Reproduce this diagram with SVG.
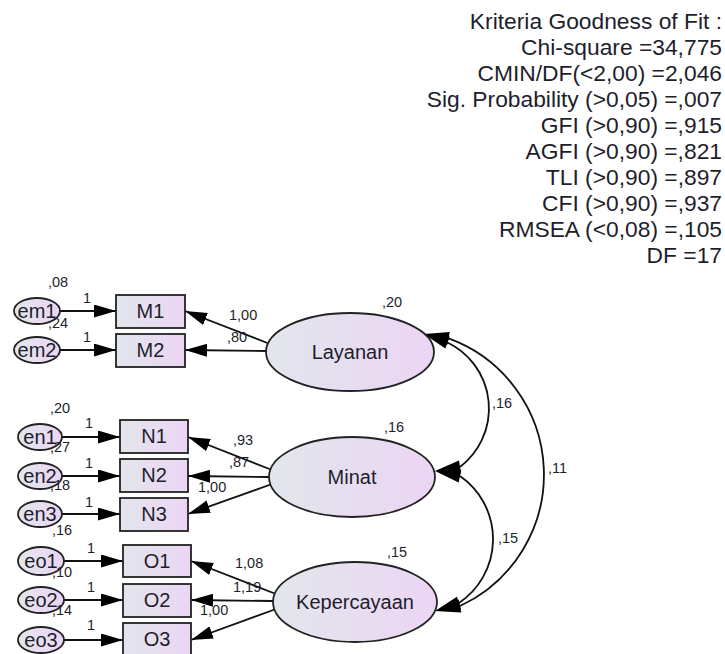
<svg xmlns="http://www.w3.org/2000/svg" width="725" height="654" viewBox="0 0 725 654">
<defs>
<linearGradient id="g" x1="0" y1="0" x2="1" y2="0">
<stop offset="0" stop-color="#e2e6ec"/>
<stop offset="1" stop-color="#ecd5f4"/>
</linearGradient>
<marker id="ah" viewBox="0 0 22 13" refX="22" refY="6.5" markerWidth="22" markerHeight="13" markerUnits="userSpaceOnUse" orient="auto-start-reverse">
<path d="M0,0 L22,6.5 L0,13 Z" fill="#000"/>
</marker>
<style>
text{font-family:"Liberation Sans",Arial,sans-serif;fill:#1e1e2c}
.fit{font-size:22.8px;text-anchor:end}
.nl{font-size:20px;text-anchor:middle}
.sl{font-size:14.5px}
.shape{fill:url(#g);stroke:#222;stroke-width:1.8}
.c{fill:none;stroke:#111;stroke-width:1.8;marker-end:url(#ah)}
.cov{fill:none;stroke:#111;stroke-width:1.8}
.head{fill:#000;stroke:none}
</style>
</defs>
<rect width="725" height="654" fill="#fff"/>
<g id="fit">
<text class="fit" x="722" y="29">Kriteria Goodness of Fit :</text>
<text class="fit" x="722" y="55">Chi-square =34,775</text>
<text class="fit" x="722" y="81">CMIN/DF(&lt;2,00) =2,046</text>
<text class="fit" x="722" y="107">Sig. Probability (&gt;0,05) =,007</text>
<text class="fit" x="722" y="133">GFI (&gt;0,90) =,915</text>
<text class="fit" x="722" y="159">AGFI (&gt;0,90) =,821</text>
<text class="fit" x="722" y="185">TLI (&gt;0,90) =,897</text>
<text class="fit" x="722" y="211">CFI (&gt;0,90) =,937</text>
<text class="fit" x="722" y="237">RMSEA (&lt;0,08) =,105</text>
<text class="fit" x="722" y="263">DF =17</text>
</g>
<g id="connectors">
<line class="c" x1="60" y1="311" x2="116" y2="311"/>
<line class="c" x1="60" y1="350" x2="116" y2="350"/>
<line class="c" x1="62" y1="437" x2="120" y2="437"/>
<line class="c" x1="62" y1="476" x2="120" y2="476"/>
<line class="c" x1="62" y1="514" x2="120" y2="514"/>
<line class="c" x1="63" y1="561" x2="123" y2="561"/>
<line class="c" x1="63" y1="600" x2="123" y2="600"/>
<line class="c" x1="63" y1="640" x2="123" y2="640"/>
<line class="c" x1="270" y1="344" x2="185" y2="311"/>
<line class="c" x1="267" y1="351" x2="185" y2="350"/>
<line class="c" x1="272" y1="470" x2="188" y2="437"/>
<line class="c" x1="269" y1="477" x2="188" y2="476"/>
<line class="c" x1="272" y1="484" x2="188" y2="514"/>
<line class="c" x1="276" y1="594" x2="191" y2="561"/>
<line class="c" x1="273" y1="601" x2="191" y2="600"/>
<line class="c" x1="276" y1="609" x2="191" y2="640"/>
<path class="cov" d="M447.5,342.5 A73.4,73.4 0 0 1 460,467"/>
<path class="cov" d="M460,476 A76.9,76.9 0 0 1 459,603"/>
<path class="cov" d="M448.6,338.4 A144.9,144.9 0 0 1 460,606"/>
<polygon class="head" points="424,334 449.7,332 447.5,344.8"/>
<polygon class="head" points="424,334 449.7,336.4 445.3,348.6"/>
<polygon class="head" points="435,471 461,473.4 459,460.6"/>
<polygon class="head" points="435,471 458.7,482.4 461.3,469.6"/>
<polygon class="head" points="435,611 461.1,609.2 456.9,596.8"/>
<polygon class="head" points="435,611 461.3,612.4 458.7,599.6"/>
<text class="sl" x="83" y="303">1</text>
<text class="sl" x="83" y="342">1</text>
<text class="sl" x="85" y="428">1</text>
<text class="sl" x="85" y="468">1</text>
<text class="sl" x="85" y="507">1</text>
<text class="sl" x="87" y="553">1</text>
<text class="sl" x="87" y="592">1</text>
<text class="sl" x="87" y="630">1</text>
<text class="sl" x="229" y="320">1,00</text>
<text class="sl" x="227" y="342">,80</text>
<text class="sl" x="233" y="445">,93</text>
<text class="sl" x="229" y="467">,87</text>
<text class="sl" x="198" y="492">1,00</text>
<text class="sl" x="235" y="568">1,08</text>
<text class="sl" x="233" y="592">1,19</text>
<text class="sl" x="200" y="615">1,00</text>
<text class="sl" x="492" y="408">,16</text>
<text class="sl" x="548" y="473">,11</text>
<text class="sl" x="498" y="543">,15</text>
</g>
<g id="em1"><ellipse class="shape" cx="37" cy="311" rx="23" ry="13"/><text class="nl" x="37" y="318">em1</text><text class="sl" x="48" y="287">,08</text></g>
<g id="em2"><ellipse class="shape" cx="37" cy="350" rx="23" ry="13"/><text class="nl" x="37" y="357">em2</text><text class="sl" x="48" y="328">,24</text></g>
<g id="en1"><ellipse class="shape" cx="40" cy="437" rx="22" ry="13"/><text class="nl" x="40" y="444">en1</text><text class="sl" x="50" y="413">,20</text></g>
<g id="en2"><ellipse class="shape" cx="40" cy="476" rx="22" ry="13"/><text class="nl" x="40" y="483">en2</text><text class="sl" x="50" y="452">,27</text></g>
<g id="en3"><ellipse class="shape" cx="40" cy="514" rx="22" ry="13"/><text class="nl" x="40" y="521">en3</text><text class="sl" x="50" y="490">,18</text></g>
<g id="eo1"><ellipse class="shape" cx="41" cy="561" rx="23" ry="14"/><text class="nl" x="41" y="568">eo1</text><text class="sl" x="52" y="535">,16</text></g>
<g id="eo2"><ellipse class="shape" cx="41" cy="600" rx="23" ry="13"/><text class="nl" x="41" y="607">eo2</text><text class="sl" x="52" y="577">,10</text></g>
<g id="eo3"><ellipse class="shape" cx="41" cy="640" rx="23" ry="13"/><text class="nl" x="41" y="647">eo3</text><text class="sl" x="52" y="615">,14</text></g>
<g id="M1"><rect class="shape" x="116" y="295" width="69" height="33"/><text class="nl" x="150.5" y="318">M1</text></g>
<g id="M2"><rect class="shape" x="116" y="334" width="69" height="33"/><text class="nl" x="150.5" y="357">M2</text></g>
<g id="N1"><rect class="shape" x="120" y="420" width="68" height="33"/><text class="nl" x="154" y="443">N1</text></g>
<g id="N2"><rect class="shape" x="120" y="459" width="68" height="33"/><text class="nl" x="154" y="482">N2</text></g>
<g id="N3"><rect class="shape" x="120" y="498" width="68" height="33"/><text class="nl" x="154" y="521">N3</text></g>
<g id="O1"><rect class="shape" x="123" y="545" width="68" height="32"/><text class="nl" x="157" y="568">O1</text></g>
<g id="O2"><rect class="shape" x="123" y="584" width="68" height="33"/><text class="nl" x="157" y="607">O2</text></g>
<g id="O3"><rect class="shape" x="123" y="623" width="68" height="33"/><text class="nl" x="157" y="646">O3</text></g>
<g id="Layanan"><ellipse class="shape" cx="350" cy="352" rx="84" ry="39"/><text class="nl" x="350" y="359">Layanan</text><text class="sl" x="382" y="307">,20</text></g>
<g id="Minat"><ellipse class="shape" cx="352" cy="477" rx="83" ry="40"/><text class="nl" x="352" y="484">Minat</text><text class="sl" x="384" y="432">,16</text></g>
<g id="Kepercayaan"><ellipse class="shape" cx="355" cy="602" rx="82" ry="40"/><text class="nl" x="355" y="609">Kepercayaan</text><text class="sl" x="387" y="557">,15</text></g>
</svg>
